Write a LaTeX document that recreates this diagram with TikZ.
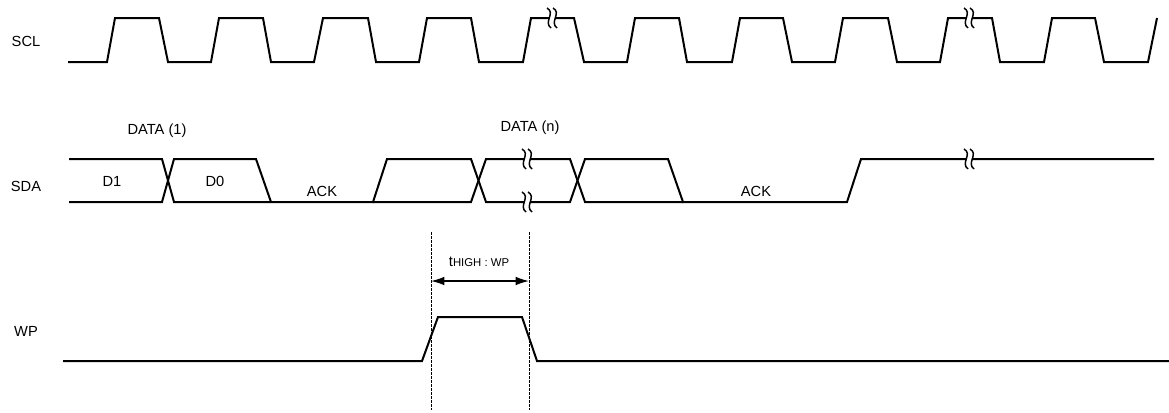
\documentclass[tikz,border=0pt]{standalone}
\usepackage{fontspec}
\setmainfont{Liberation Sans}
\usetikzlibrary{arrows.meta}
\begin{document}
\begin{tikzpicture}[x={(0.75pt,0)},y={(0,-0.75pt)},
  wave/.style={line width=1.5pt,line join=miter},
  lbl/.style={font=\fontsize{11}{13}\selectfont,inner sep=0pt},
  guide/.style={line width=0.6pt,dash pattern=on 2pt off 1pt},
  dim/.style={line width=1.1pt,{Latex[length=10pt,width=6.5pt]}-{Latex[length=10pt,width=6.5pt]}},
  brk/.pic={
    \fill[white] (-5,-10) .. controls (4,-5) and (-9,4) .. (-1,10)
      -- (5,10) .. controls (-3,4) and (10,-5) .. (1,-10) -- cycle;
    \draw[line width=1.1pt] (-5,-10) .. controls (4,-5) and (-9,4) .. (-1,10);
    \draw[line width=1.1pt] (1,-10) .. controls (10,-5) and (-3,4) .. (5,10);
  }]
\useasboundingbox (0,0) rectangle (1169,412);

% labels
\node[lbl] (lscl) at (26,41) {SCL};
\node[lbl] (lsda) at (26,186) {SDA};
\node[lbl] (lwp) at (26,331) {WP};
\node[lbl] (d1) at (112,181) {D1};
\node[lbl] (d0) at (215,181) {D0};
\node[lbl] (ack1) at (322,191) {ACK};
\node[lbl] (ack2) at (756,191) {ACK};
\node[lbl] (data1) at (157,131) {DATA (1)};
\node[lbl] (datan) at (530,128) {DATA (n)};

% SCL
\draw[wave] (68,62) -- (107,62) -- (115,18) -- (159,18) -- (168,62) -- (211,62) -- (219,18) -- (263,18) -- (271,62)
 -- (314,62) -- (323,18) -- (368,18) -- (376,62) -- (419,62) -- (427,18) -- (471,18) -- (479,62)
 -- (523,62) -- (531,18) -- (574,18) -- (584,62) -- (627,62) -- (635,18) -- (679,18) -- (687,62)
 -- (732,62) -- (740,18) -- (783,18) -- (792,62) -- (835,62) -- (843,18) -- (888,18) -- (897,62)
 -- (940,62) -- (948,18) -- (992,18) -- (1000,62) -- (1044,62) -- (1052,18) -- (1095,18) -- (1104,62)
 -- (1148,62) -- (1157,18);

% SDA
\draw[wave] (69,159) -- (162,159) -- (174,202) -- (373,202) -- (387,159) -- (471,159) -- (486,202)
 -- (570,202) -- (585,159) -- (668,159) -- (683,202) -- (847,202) -- (861,159) -- (1154,159);
\draw[wave] (69,202) -- (162,202) -- (174,159) -- (256,159) -- (271,202);
\draw[wave] (373,202) -- (471,202) -- (486,159) -- (570,159) -- (585,202) -- (683,202);

% WP
\draw[wave] (63,361) -- (422,361) -- (438,317) -- (522,317) -- (537,361) -- (1169,361);

% breaks
\pic at (552,18) {brk};
\pic at (969,18) {brk};
\pic at (527,159) {brk};
\pic at (527,202) {brk};
\pic at (969,159) {brk};

% timing
\coordinate (g1t) at (431,232);
\coordinate (g1b) at (431,410);
\coordinate (g2t) at (529,232);
\coordinate (g2b) at (529,410);
\draw[guide] (g1t) -- (g1b);
\draw[guide] (g2t) -- (g2b);
\coordinate (a1) at (431,281);
\coordinate (a2) at (529,281);
\draw[dim] (a1) -- (a2);
\node[inner sep=0pt,anchor=base] (thigh) at (479,266) {\fontsize{11}{13}\selectfont t\fontsize{8.5}{10}\selectfont HIGH : WP};
\end{tikzpicture}
\end{document}
